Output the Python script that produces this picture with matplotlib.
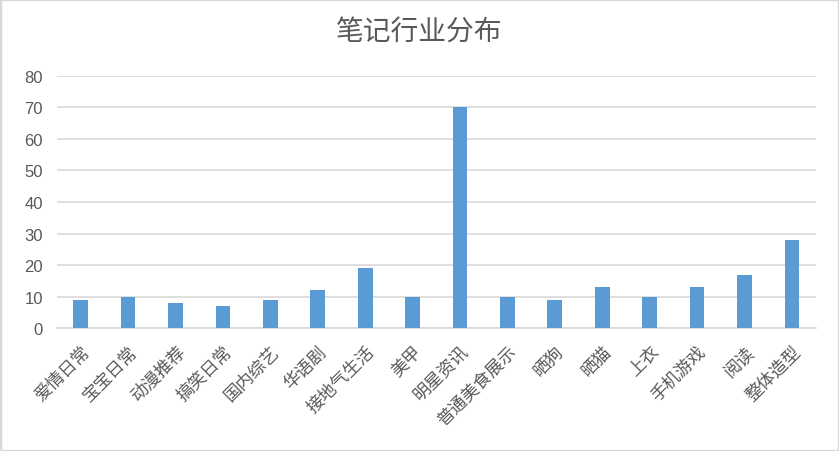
import matplotlib
matplotlib.use("Agg")
import matplotlib.pyplot as plt
from matplotlib.patches import Rectangle

plt.rcParams['font.family'] = ['Noto Sans CJK SC', 'DejaVu Sans']

categories = ["爱情日常", "宝宝日常", "动漫推荐", "搞笑日常", "国内综艺", "华语剧", "接地气生活", "美甲",
              "明星资讯", "普通美食展示", "晒狗", "晒猫", "上衣", "手机游戏", "阅读", "整体造型"]
values = [9, 10, 8, 7, 9, 12, 19, 10, 70, 10, 9, 13, 10, 13, 17, 28]
yticks = [0, 10, 20, 30, 40, 50, 60, 70, 80]
title = "笔记行业分布"

fig = plt.figure(figsize=(8.39, 4.52), dpi=100)
ax = fig.add_axes([57/839, 1-329.3/452, (815.6-57)/839, (329.3-76.7)/452])

x = list(range(len(categories)))
ax.bar(x, values, width=0.31, color='#5B9BD5', zorder=3)
ax.set_xlim(-0.5, len(categories)-0.5)
ax.set_ylim(0, 80)
ax.set_yticks(yticks)
ax.set_yticklabels([str(v) for v in yticks], fontsize=12, color='#595959', family=['Liberation Sans', 'DejaVu Sans'])
ax.yaxis.grid(True, color='#D9D9D9', linewidth=1.2, zorder=0)
ax.set_axisbelow(True)
ax.tick_params(axis='both', length=0)
ax.tick_params(axis='y', pad=10)
ax.set_xticks(x)
ax.set_xticklabels(categories, rotation=45, ha='right', rotation_mode='anchor', fontsize=12.5, color='#595959')
ax.tick_params(axis='x', pad=10)
for s in ['top', 'right', 'left']:
    ax.spines[s].set_visible(False)
ax.spines['bottom'].set_color('#D9D9D9')
ax.spines['bottom'].set_linewidth(1.2)

fig.text(0.5, 1-33/452, title, ha='center', va='center', fontsize=20, color='#595959')
fig.patches.append(Rectangle((0, 0), 1, 1, transform=fig.transFigure, fill=False,
                             edgecolor='#D9D9D9', linewidth=2.5))
fig.savefig("out.png", dpi=100)
